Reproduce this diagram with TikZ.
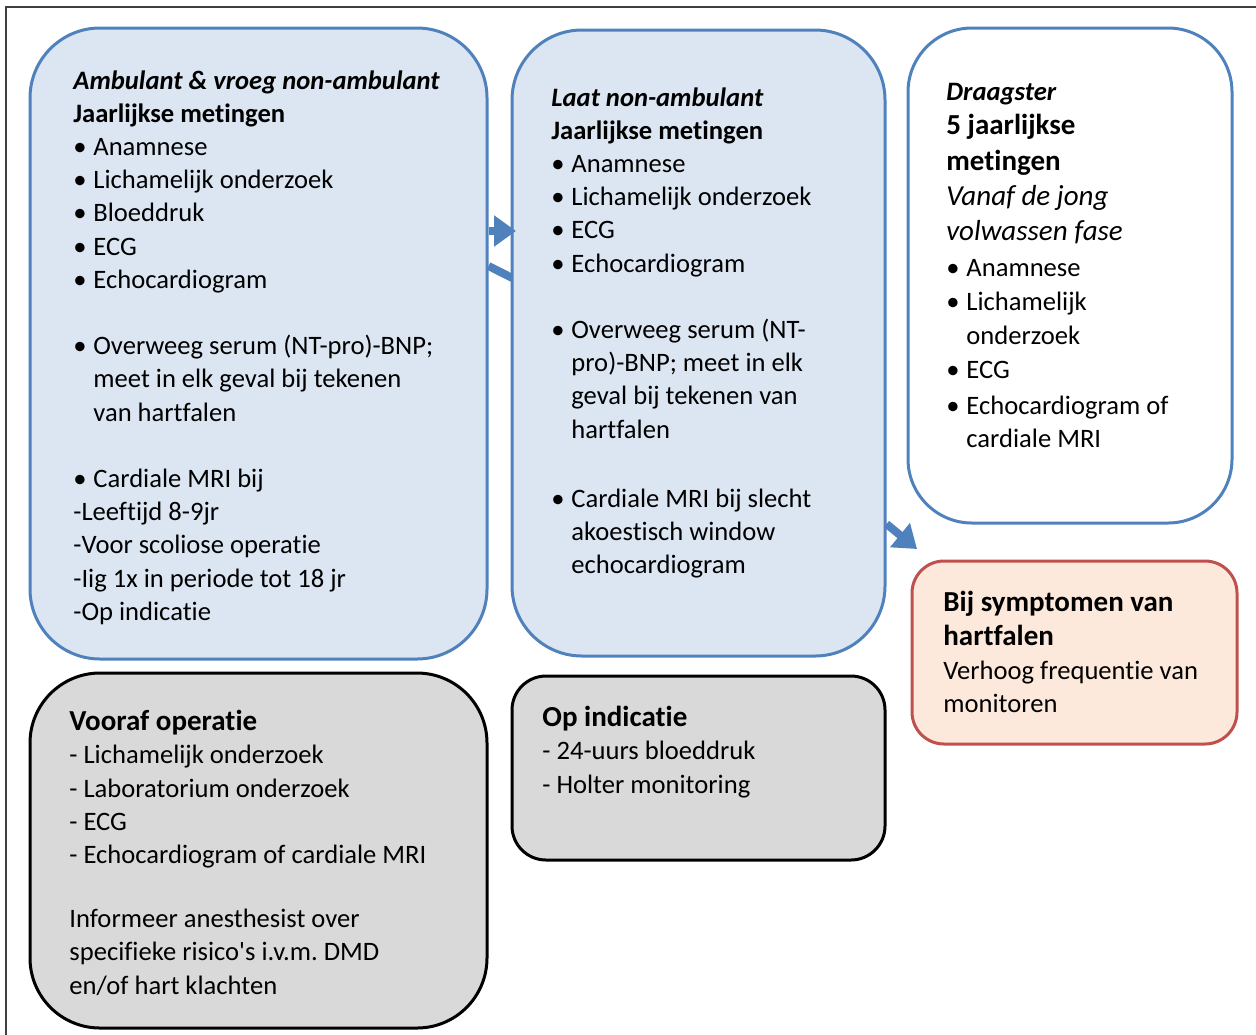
\documentclass[tikz,border=0pt]{standalone}
\usepackage{fontspec}
\setmainfont{Carlito}[Ligatures={NoCommon,NoContextual}]
\usetikzlibrary{arrows.meta}
\frenchspacing
\definecolor{boxblue}{HTML}{4F81BD}
\definecolor{paleblue}{HTML}{DCE6F2}
\definecolor{palered}{HTML}{FDE9DB}
\definecolor{boxred}{HTML}{C0504D}
\definecolor{palegray}{HTML}{D9D9D9}
\definecolor{framegray}{HTML}{404040}
\tikzset{
  stagebox/.style={draw, rounded corners=35pt, line width=1.5pt, inner sep=0pt},
  earlybox/.style={stagebox, draw=boxblue, fill=paleblue},
  carrierbox/.style={stagebox, rounded corners=32pt, draw=boxblue, fill=white},
  alertbox/.style={stagebox, rounded corners=16pt, draw=boxred, fill=palered},
  extrabox/.style={stagebox, draw=black, fill=palegray},
  boxtext/.style={anchor=north west, align=left, inner sep=0pt, font=\fontsize{13.3}{16.6}\selectfont},
  flow/.style={-{Triangle[length=11pt, width=15pt]}, line width=4pt, draw=boxblue},
}
\newcommand{\bul}{\makebox[10pt][l]{\textbullet}}
\newcommand{\ind}{\hspace*{10pt}}
\newcommand{\bigger}{\fontsize{14.5}{17.5}\selectfont}
\begin{document}
\begin{tikzpicture}[x=0.5pt, y=-0.5pt]
\useasboundingbox (0,0) rectangle (1256,1034);
\draw[framegray, line width=0.75pt] (6,1040) -- (6,7) -- (1260,7);
% stage boxes
\node[earlybox, minimum width=228.5pt, minimum height=315.5pt] (early) at (258.5,343.5) {};
\coordinate (lowtip) at (540,292);
\draw[flow] (early.east |- 0,266) -- (lowtip);
\node[earlybox, minimum width=186.5pt, minimum height=313pt] (late) at (698.5,343) {};
\node[carrierbox, minimum width=162pt, minimum height=247.5pt] (carrier) at (1070,275.5) {};
\node[alertbox, minimum width=162.5pt, minimum height=91.5pt] (alert) at (1074.5,652.5) {};
\node[extrabox, minimum width=228.5pt, minimum height=177.5pt] (preop) at (258.5,850.5) {};
\node[extrabox, rounded corners=17pt, minimum width=186.5pt, minimum height=92pt] (indic) at (698.5,768) {};
% arrows
\coordinate (uptip) at (516,231);
\coordinate (alerttip) at (917,549);
\draw[flow] (early.east |- uptip) -- (uptip);
\draw[flow] (late.east |- 0,524) -- (alerttip);
% texts
\node[boxtext] (earlytxt) at (73,70) {\textbf{\textit{Ambulant \& vroeg non-ambulant}}\\
\textbf{Jaarlijkse metingen}\\
\bul Anamnese\\
\bul Lichamelijk onderzoek\\
\bul Bloeddruk\\
\bul ECG\\
\bul Echocardiogram\\[16.6pt]
\bul Overweeg serum (NT-pro)-BNP;\\
\ind meet in elk geval bij tekenen\\
\ind van hartfalen\\[16.6pt]
\bul Cardiale MRI bij\\
-Leeftijd 8-9jr\\
-Voor scoliose operatie\\
-Iig 1x in periode tot 18 jr\\
-Op indicatie};
\node[boxtext] (latetxt) at (551,87) {\textbf{\textit{Laat non-ambulant}}\\
\textbf{Jaarlijkse metingen}\\
\bul Anamnese\\
\bul Lichamelijk onderzoek\\
\bul ECG\\
\bul Echocardiogram\\[16.6pt]
\bul Overweeg serum (NT-\\
\ind pro)-BNP; meet in elk\\
\ind geval bij tekenen van\\
\ind hartfalen\\[18pt]
\bul Cardiale MRI bij slecht\\
\ind akoestisch window\\
\ind echocardiogram};
\node[boxtext] (carriertxt) at (946,83) {\textbf{\textit{Draagster}}\\[0.5pt]
{\bigger\textbf{5 jaarlijkse}}\\[1pt]
{\bigger\textbf{metingen}}\\[1pt]
{\bigger\textit{Vanaf de jong}}\\[1pt]
{\bigger\textit{volwassen fase}}\\[1.5pt]
\bul Anamnese\\[0.5pt]
\bul Lichamelijk\\
\ind onderzoek\\[0.5pt]
\bul ECG\\[1.5pt]
\bul Echocardiogram of\\
\ind cardiale MRI};
\node[boxtext] (alerttxt) at (943,591) {{\bigger\textbf{Bij symptomen van}}\\[0.5pt]
{\bigger\textbf{hartfalen}}\\
Verhoog frequentie van\\
monitoren};
\node[boxtext] (preoptxt) at (69,710) {{\bigger\textbf{Vooraf operatie}}\\
- Lichamelijk onderzoek\\
- Laboratorium onderzoek\\
- ECG\\
- Echocardiogram of cardiale MRI\\[15.5pt]
Informeer anesthesist over\\
specifieke risico\textquotesingle s i.v.m. DMD\\
en/of hart klachten};
\node[boxtext] (indictxt) at (542,706) {{\bigger\textbf{Op indicatie}}\\
- 24-uurs bloeddruk\\
- Holter monitoring};
\end{tikzpicture}
\end{document}
